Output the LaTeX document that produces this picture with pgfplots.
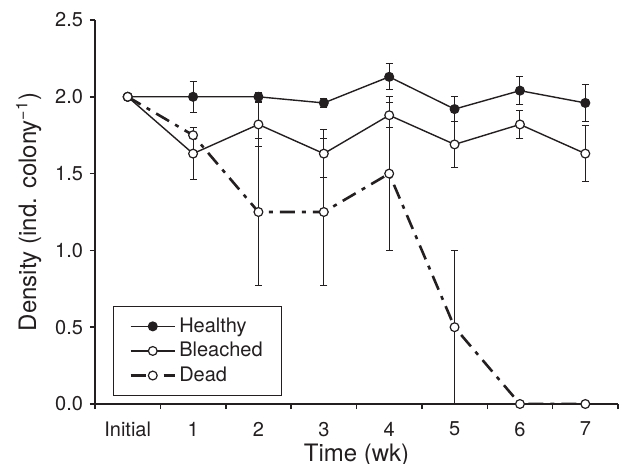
\documentclass[border=0pt]{standalone}
\usepackage{fontspec}
\setmainfont{TeX Gyre Heros}
\usepackage{pgfplots}
\pgfplotsset{compat=1.18}
\definecolor{ink}{RGB}{35,31,32}

% dash-dot pattern of the "Dead" series
\tikzset{deadline/.style={line width=1.3pt, dash pattern=on 7.5pt off 3.5pt on 2pt off 3.5pt}}

\begin{document}
\begin{tikzpicture}
\path[use as bounding box] (-47.5pt,-30pt) rectangle (262pt,202pt);
\begin{axis}[
    scale only axis,
    width=261.5pt, height=192pt,
    xmin=-0.5, xmax=7.5,
    ymin=0, ymax=2.5,
    axis x line*=bottom, axis y line*=left,
    axis line style={ink, line width=0.75pt},
    xtick={0,...,7},
    xticklabels={Initial,1,2,3,4,5,6,7},
    major x tick style={draw=none},
    minor xtick={-0.5,0.5,...,7.5},
    minor x tick style={ink, line width=0.75pt},
    ytick={0,0.5,...,2.5},
    major y tick style={ink, line width=0.75pt},
    tick align=outside,
    major tick length=2.5pt, minor tick length=2.5pt,
    yticklabel style={/pgf/number format/.cd, fixed, fixed zerofill, precision=1},
    /pgf/number format/assume math mode=true,
    tick label style={font=\fontsize{10}{12}\selectfont, text=ink},
    xticklabel style={yshift=-3pt},
    label style={font=\fontsize{12}{14}\selectfont, text=ink},
    xlabel={Time (wk)},
    xlabel style={at={(axis description cs:0.5,-0.15)}, anchor=base, inner sep=0pt},
    ylabel={Density (ind. colony\textsuperscript{−1})},
    error bars/y dir=both, error bars/y explicit,
    error bars/error bar style={ink, line width=0.5pt, solid},
    error bars/error mark options={ink, line width=0.5pt, mark size=1.75pt, solid, rotate=90},
    legend style={at={(0.034,0.255)}, anchor=north west, draw=ink, line width=0.5pt,
        font=\fontsize{10}{10}\selectfont, text=ink, row sep=0.5pt,
        inner xsep=8pt, inner ysep=4pt, nodes={inner sep=1.5pt}},
    legend cell align=left,
    legend image code/.code={
        \draw[#1, mark=none] (0cm,0cm) -- (0.78cm,0cm);
        \draw[#1, solid] plot coordinates {(0.39cm,0cm)};
    },
]
\addplot[ink, line width=0.7pt, mark=*, mark size=2.2pt,
    mark options={solid, fill=ink, line width=0.6pt}]
    coordinates {
    (0,2.00) +- (0,0)
    (1,2.00) +- (0,0.10)
    (2,2.00) +- (0,0.03)
    (3,1.96) +- (0,0.03)
    (4,2.13) +- (0,0.085)
    (5,1.92) +- (0,0.08)
    (6,2.04) +- (0,0.09)
    (7,1.96) +- (0,0.12)
};
\addplot[ink, line width=0.7pt, mark=*, mark size=2.2pt,
    mark options={solid, fill=white, line width=0.6pt}]
    coordinates {
    (0,2.00) +- (0,0)
    (1,1.63) +- (0,0.17)
    (2,1.82) +- (0,0.145)
    (3,1.63) +- (0,0.155)
    (4,1.88) +- (0,0.08)
    (5,1.69) +- (0,0.15)
    (6,1.82) +- (0,0.09)
    (7,1.63) +- (0,0.18)
};
\addplot[ink, deadline, mark=*, mark size=2.2pt,
    mark options={solid, fill=white, line width=0.6pt}]
    coordinates {
    (0,2.00) +- (0,0)
    (1,1.75) +- (0,0)
    (2,1.25) +- (0,0.48)
    (3,1.25) +- (0,0.48)
    (4,1.50) +- (0,0.50)
    (5,0.50) +- (0,0.50)
    (6,0.00) +- (0,0)
    (7,0.00) +- (0,0)
};
\legend{Healthy, Bleached, Dead}
\end{axis}
\end{tikzpicture}
\end{document}
